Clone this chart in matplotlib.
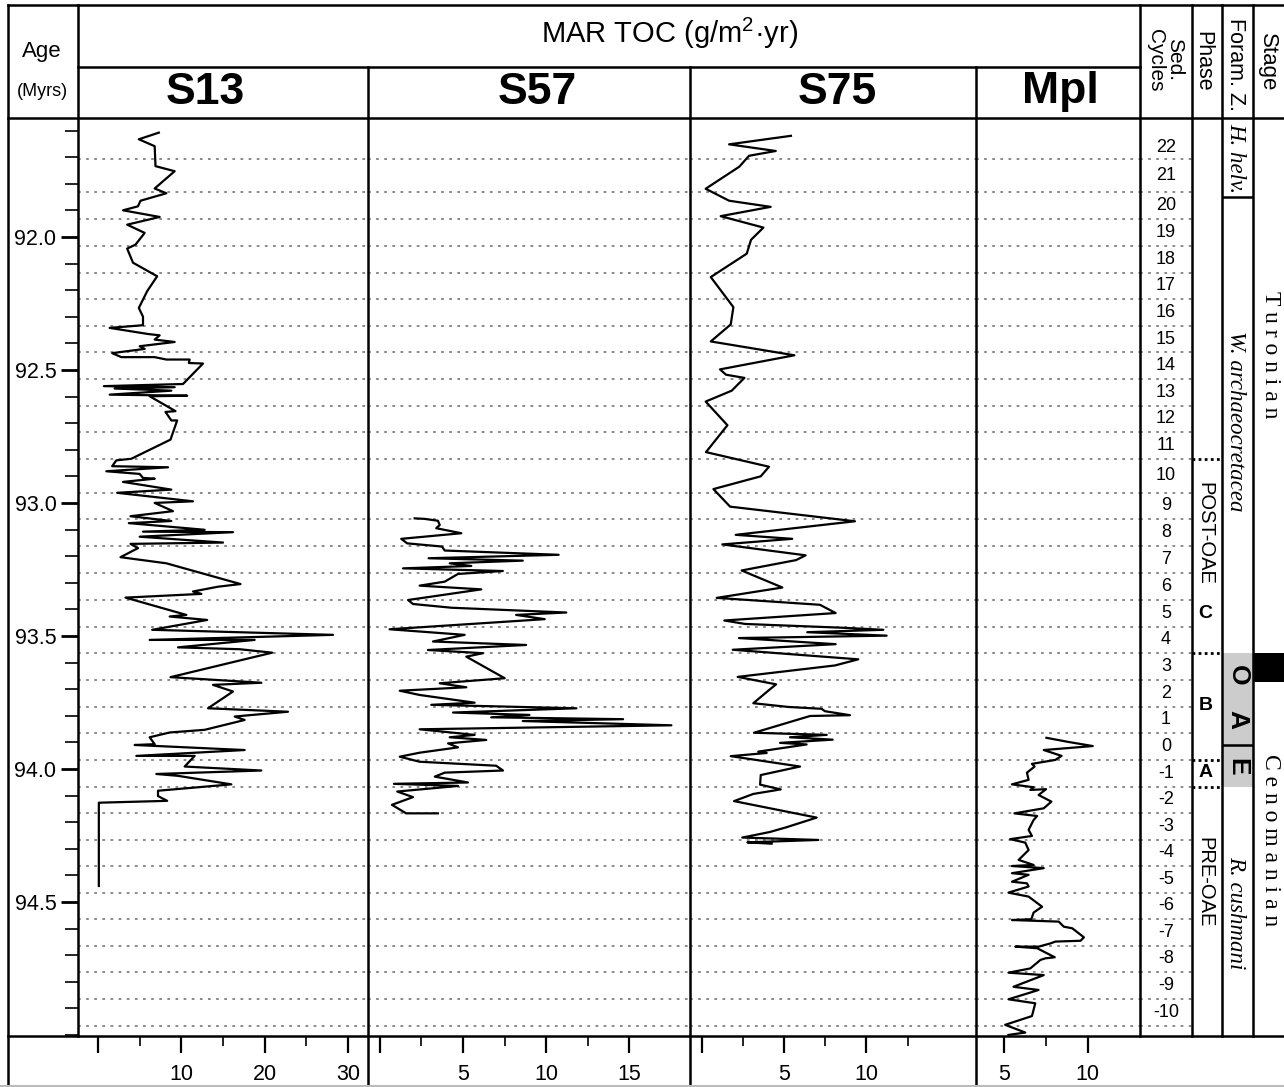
import matplotlib
matplotlib.use("Agg")
import matplotlib.pyplot as plt
from matplotlib.ticker import MultipleLocator

W, H = 1284, 1087
SANS = "Liberation Sans"
SERIF = "Liberation Serif"
plt.rcParams["mathtext.fontset"] = "custom"
plt.rcParams["mathtext.rm"] = SANS

# ---- data: age (Myr) and MAR TOC (g/m2/yr) ----
s13_age = [91.608, 91.633, 91.659, 91.734, 91.753, 91.818, 91.836, 91.864, 91.885, 91.900,
           91.925, 91.954, 91.985, 92.029, 92.044, 92.097, 92.148, 92.204, 92.267, 92.300,
           92.332, 92.342, 92.365, 92.370, 92.386, 92.395, 92.411, 92.421, 92.437, 92.452,
           92.452, 92.461, 92.461, 92.474, 92.476, 92.553, 92.561, 92.565, 92.570, 92.578,
           92.593, 92.597, 92.599, 92.655, 92.658, 92.690, 92.690, 92.762, 92.834, 92.840,
           92.862, 92.866, 92.881, 92.891, 92.906, 92.909, 92.921, 92.950, 92.962, 92.994,
           93.000, 93.031, 93.050, 93.068, 93.076, 93.101, 93.108, 93.110, 93.127, 93.139,
           93.149, 93.154, 93.170, 93.204, 93.227, 93.305, 93.315, 93.333, 93.342, 93.356,
           93.421, 93.427, 93.440, 93.477, 93.496, 93.515, 93.515, 93.543, 93.550, 93.563,
           93.655, 93.676, 93.684, 93.709, 93.772, 93.785, 93.803, 93.816, 93.853, 93.863,
           93.881, 93.907, 93.910, 93.929, 93.951, 93.951, 93.991, 94.006, 94.019, 94.026,
           94.058, 94.082, 94.102, 94.120, 94.127, 94.440]
s13_mar = [7.3, 4.9, 6.8, 6.9, 9.2, 6.8, 8.2, 5.1, 4.8, 3.0,
           7.4, 3.5, 5.6, 4.5, 3.5, 4.2, 7.1, 5.9, 4.9, 5.4,
           5.4, 1.4, 6.0, 7.4, 6.8, 9.2, 5.0, 5.6, 1.7, 2.8,
           6.8, 8.2, 11.0, 10.9, 12.6, 10.2, 0.7, 9.2, 2.0, 8.8,
           1.4, 10.7, 6.2, 9.3, 8.1, 8.8, 9.5, 8.7, 4.0, 2.2,
           1.7, 8.4, 1.0, 5.0, 5.4, 6.8, 3.0, 8.8, 2.3, 11.4,
           6.8, 9.0, 3.9, 8.8, 3.7, 12.8, 5.4, 16.2, 5.0, 10.4,
           15.0, 3.9, 4.8, 2.7, 8.2, 17.1, 14.4, 11.4, 12.4, 3.3,
           10.6, 8.6, 13.1, 6.5, 28.2, 6.2, 18.8, 9.6, 17.0, 20.9,
           8.7, 19.6, 13.8, 16.2, 13.2, 22.8, 16.4, 17.6, 12.8, 8.6,
           6.2, 6.8, 4.4, 17.6, 4.6, 11.6, 10.4, 19.6, 7.0, 9.6,
           16.0, 7.2, 7.2, 8.3, 0.1, 0.1]

s57_age = [93.058, 93.060, 93.067, 93.083, 93.095, 93.114, 93.135, 93.152, 93.164, 93.179,
           93.195, 93.208, 93.217, 93.227, 93.237, 93.246, 93.256, 93.267, 93.296, 93.311,
           93.325, 93.365, 93.380, 93.394, 93.412, 93.421, 93.437, 93.475, 93.496, 93.521,
           93.534, 93.553, 93.565, 93.578, 93.659, 93.678, 93.693, 93.706, 93.722, 93.751,
           93.759, 93.772, 93.788, 93.797, 93.806, 93.813, 93.820, 93.836, 93.851, 93.872,
           93.881, 93.891, 93.904, 93.919, 93.939, 93.954, 93.973, 93.988, 94.006, 94.014,
           94.029, 94.051, 94.056, 94.064, 94.085, 94.106, 94.135, 94.167, 94.167]
s57_mar = [2.09, 2.69, 3.49, 3.6, 3.39, 4.9, 1.28, 1.64, 3.73, 3.9,
           10.76, 2.93, 8.6, 4.2, 5.5, 1.39, 7.4, 4.7, 3.9, 2.39,
           6.1, 1.69, 1.99, 4.3, 11.22, 8.2, 9.92, 0.58, 5.1, 3.19,
           8.8, 2.89, 6.2, 5.2, 7.51, 3.6, 5.2, 1.19, 2.39, 5.7,
           3.09, 11.83, 4.4, 9.0, 6.7, 14.64, 8.6, 17.55, 2.39, 5.7,
           4.2, 6.4, 4.1, 4.7, 2.39, 1.19, 2.39, 7.0, 7.41, 3.9,
           3.3, 5.3, 0.84, 4.7, 1.04, 1.99, 0.72, 1.58, 3.49]

s75_age = [91.620, 91.652, 91.677, 91.695, 91.736, 91.819, 91.864, 91.887, 91.922, 91.965,
           92.011, 92.063, 92.151, 92.264, 92.329, 92.393, 92.445, 92.498, 92.518, 92.530,
           92.578, 92.619, 92.708, 92.809, 92.864, 92.900, 92.948, 93.014, 93.069, 93.120,
           93.135, 93.156, 93.197, 93.215, 93.254, 93.318, 93.357, 93.383, 93.414, 93.442,
           93.455, 93.469, 93.477, 93.486, 93.499, 93.508, 93.531, 93.552, 93.588, 93.611,
           93.654, 93.682, 93.703, 93.753, 93.767, 93.774, 93.783, 93.798, 93.801, 93.864,
           93.872, 93.881, 93.890, 93.902, 93.908, 93.935, 93.940, 93.952, 93.991, 94.023,
           94.059, 94.077, 94.094, 94.121, 94.183, 94.219, 94.237, 94.258, 94.267, 94.276,
           94.281]
s75_mar = [5.42, 1.67, 4.50, 2.88, 2.29, 0.25, 1.67, 4.19, 1.16, 3.75,
           3.00, 2.74, 0.56, 1.93, 1.77, 0.56, 5.63, 1.12, 1.48, 2.60,
           1.83, 0.25, 1.57, 0.27, 4.09, 3.59, 0.72, 1.73, 9.3, 2.07,
           5.50, 1.26, 6.31, 5.73, 2.43, 4.90, 0.92, 7.18, 8.13, 1.38,
           2.64, 8.44, 11.02, 6.41, 11.22, 2.27, 8.13, 1.89, 9.50, 8.09,
           2.19, 4.52, 4.10, 3.14, 5.26, 7.28, 7.48, 9.00, 6.58, 3.18,
           7.59, 5.36, 7.95, 4.76, 6.37, 3.44, 3.95, 1.77, 5.97, 3.59,
           3.55, 4.80, 3.14, 1.97, 6.98, 5.16, 4.15, 2.47, 7.08, 2.78,
           4.25]

mpl_age = [93.883, 93.898, 93.914, 93.929, 93.951, 93.966, 93.981, 93.991, 94.014, 94.041,
           94.058, 94.069, 94.079, 94.076, 94.098, 94.123, 94.148, 94.167, 94.177, 94.192,
           94.229, 94.252, 94.264, 94.277, 94.305, 94.342, 94.361, 94.365, 94.373, 94.392,
           94.398, 94.424, 94.430, 94.442, 94.465, 94.480, 94.518, 94.540, 94.565, 94.568,
           94.574, 94.593, 94.599, 94.633, 94.646, 94.649, 94.656, 94.668, 94.668, 94.674,
           94.708, 94.712, 94.718, 94.750, 94.766, 94.775, 94.819, 94.831, 94.866, 94.881,
           94.929, 94.962, 94.991, 95.0]
mpl_mar = [7.52, 8.79, 10.30, 7.36, 8.43, 8.06, 6.65, 6.81, 6.35, 6.45,
           5.45, 6.75, 6.55, 7.5, 7.05, 7.82, 7.36, 5.6, 6.96, 6.75,
           6.45, 6.65, 5.34, 6.25, 6.45, 5.85, 6.75, 5.45, 7.36, 5.45,
           6.45, 5.45, 6.35, 6.45, 5.24, 6.45, 7.26, 6.75, 6.61, 5.45,
           8.26, 8.56, 9.07, 9.77, 9.57, 8.06, 7.76, 7.05, 5.65, 6.96,
           8.02, 7.46, 7.16, 6.55, 5.24, 7.36, 5.54, 7.05, 5.24, 6.85,
           6.65, 5.04, 6.25, 5.24]

# sedimentary cycle boundaries (Myr) and labels
cycle_bounds = [91.707, 91.833, 91.933, 92.034, 92.134, 92.235, 92.335, 92.434, 92.534,
                92.634, 92.734, 92.835, 92.962, 93.061, 93.162, 93.263, 93.365, 93.465,
                93.564, 93.665, 93.766, 93.865, 93.966, 94.067, 94.165, 94.267, 94.365,
                94.465, 94.564, 94.665, 94.763, 94.865, 94.966]
cycle_labels = [str(n) for n in range(22, -11, -1)]
cycle_top = 91.62

phase_bounds = [92.835, 93.564, 93.966, 94.067]
phase_texts = ["POST-OAE", "C", "B", "A", "PRE-OAE"]
phase_pos = [93.113, 93.417, 93.763, 94.015, 94.425]

oae_span = (93.564, 94.067)
oae_letters = ["O", "A", "E"]
oae_pos = [93.647, 93.816, 93.992]
foram_bounds = [91.85, 93.91]
foram_names = ["H. helv.", "W. archaeocretacea", "R. cushmani"]
foram_pos = [91.703, 92.692, 94.54]
stage_names = ["Turonian", "Cenomanian"]
stage_pos = [92.444, 94.267]
stage_box = (93.564, 93.673)

panels = [
    # name, x px range, xlim, major ticks, labels, minor ticks, x of title
    ("S13", (78, 368), (-2.4, 32.4), [0, 10, 20, 30], ["", "10", "20", "30"], [5, 15, 25], 205, s13_mar, s13_age),
    ("S57", (368, 690), (-0.72, 18.67), [0, 5, 10, 15], ["", "5", "10", "15"], [2.5, 7.5, 12.5], 537, s57_mar, s57_age),
    ("S75", (690, 976), (-0.70, 16.64), [0, 5, 10], ["", "5", "10"], [2.5, 7.5, 12.5], 837, s75_mar, s75_age),
    ("Mpl", (976, 1140), (3.29, 13.14), [5, 10], ["5", "10"], [7.5], 1060, mpl_mar, mpl_age),
]

YLIM = (95.004, 91.553)
PLOT_TOP, PLOT_BOT = 118, 1036

fig = plt.figure(figsize=(W / 100, H / 100), dpi=100)


def px_axes(x0, x1, y0=PLOT_TOP, y1=PLOT_BOT):
    ax = fig.add_axes([x0 / W, 1 - y1 / H, (x1 - x0) / W, (y1 - y0) / H])
    ax.set_ylim(*YLIM)
    ax.patch.set_alpha(0)
    for s in ax.spines.values():
        s.set_visible(False)
    return ax


def dotted_grid(ax):
    for b in cycle_bounds:
        ax.axhline(b, color="#808080", ls=(0, (1.5, 3)), lw=1.3, zorder=0)


for i, (name, (x0, x1), xlim, maj, majlab, mnr, tx, xs, ys) in enumerate(panels):
    ax = px_axes(x0, x1)
    ax.set_xlim(*xlim)
    dotted_grid(ax)
    ax.plot(xs, ys, color="black", lw=1.6, zorder=3)
    ax.set_xticks(maj)
    ax.set_xticklabels(majlab, fontfamily=SANS)
    ax.set_xticks(mnr, minor=True)
    ax.tick_params(axis="x", which="major", direction="out", length=12, width=1.6,
                   labelsize=15.5, pad=8)
    ax.tick_params(axis="x", which="minor", direction="out", length=7, width=1.2)
    if i == 0:
        ax.set_yticks([92.0, 92.5, 93.0, 93.5, 94.0, 94.5])
        ax.set_yticklabels(["92.0", "92.5", "93.0", "93.5", "94.0", "94.5"], fontfamily=SANS)
        ax.yaxis.set_minor_locator(MultipleLocator(0.1))
        ax.tick_params(axis="y", which="major", direction="out", length=12.5, width=2,
                       labelsize=15.5, pad=3)
        ax.tick_params(axis="y", which="minor", direction="out", length=9.5, width=1.2)
    else:
        ax.set_yticks([])
    fig.text(tx / W, 1 - 92 / H, name, ha="center", va="center", fontsize=32,
             fontweight="bold", fontfamily=SANS)

# sedimentary cycles column
ax_sed = px_axes(1140, 1192)
ax_sed.set_xlim(0, 1)
ax_sed.set_xticks([])
ax_sed.set_yticks([])
dotted_grid(ax_sed)
edges = [cycle_top] + cycle_bounds
for lab, a, b in zip(cycle_labels, edges[:-1], edges[1:]):
    ax_sed.text(0.5, (a + b) / 2, lab, ha="center", va="center", fontsize=13, fontfamily=SANS)

# phase column
ax_ph = px_axes(1192, 1222)
ax_ph.set_xlim(0, 1)
ax_ph.set_xticks([])
ax_ph.set_yticks([])
for b in phase_bounds:
    ax_ph.axhline(b, color="black", ls=(0, (1, 1.2)), lw=2)
for t, a in zip(phase_texts, phase_pos):
    if len(t) > 1:
        ax_ph.text(0.43, a, t, ha="center", va="center", rotation=-90, fontsize=14.5,
                   fontfamily=SANS)
    else:
        ax_ph.text(0.45, a, t, ha="center", va="center", fontsize=14, fontweight="bold",
                   fontfamily=SANS)

# foraminifera zones
ax_fo = px_axes(1222, 1253)
ax_fo.set_xlim(0, 1)
ax_fo.set_xticks([])
ax_fo.set_yticks([])
ax_fo.axhspan(*oae_span, color="#cccccc", lw=0, zorder=0)
for b in foram_bounds:
    ax_fo.axhline(b, color="black", lw=1.8)
for t, a in zip(foram_names, foram_pos):
    ax_fo.text(0.45, a, t, ha="center", va="center", rotation=-90, fontsize=16.5,
               fontstyle="italic", fontfamily=SERIF)
for t, a in zip(oae_letters, oae_pos):
    ax_fo.text(0.5, a, t, ha="center", va="center", rotation=-90, fontsize=19,
               fontweight="heavy", fontfamily=SANS)

# stage column
ax_st = px_axes(1253, 1284)
ax_st.set_xlim(0, 1)
ax_st.set_xticks([])
ax_st.set_yticks([])
ax_st.axhspan(*stage_box, color="black", lw=0)
for t, a in zip(stage_names, stage_pos):
    ax_st.text(0.55, a, " ".join(t), ha="center", va="center", rotation=-90, fontsize=17,
               fontfamily=SERIF)

# frame and header (pixel coordinates)
ov = fig.add_axes([0, 0, 1, 1], zorder=10)
ov.set_xlim(0, W)
ov.set_ylim(H, 0)
ov.axis("off")
ov.patch.set_alpha(0)
lk = dict(color="black", lw=1.8, solid_capstyle="projecting")
ov.plot([8, W], [5, 5], **lk)
ov.plot([8, W], [118, 118], **lk)
ov.plot([8, W], [1036, 1036], **lk)
ov.plot([78, 1140], [67, 67], **lk)
ov.plot([8, 8], [5, 1086], **lk)
for x in (78, 1140, 1192, 1222, 1253):
    ov.plot([x, x], [5, 1036], **lk)
for x in (368, 690, 976):
    ov.plot([x, x], [67, 1086], **lk)
ov.plot([0, W], [1086, 1086], color="#bbbbbb", lw=1.5)

ov.text(670, 33, "MAR TOC (g/m$^2$·yr)", ha="center", va="center", fontsize=21, fontfamily=SANS)
ov.text(42, 52, "Age", ha="center", va="center", fontsize=16, fontfamily=SANS)
ov.text(42, 92, "(Myrs)", ha="center", va="center", fontsize=13, fontfamily=SANS)
ov.text(1165, 60, "Sed.\nCycles", ha="center", va="center", rotation=-90, fontsize=15,
        fontfamily=SANS, linespacing=0.95)
ov.text(1203, 61, "Phase", ha="center", va="center", rotation=-90, fontsize=15.5, fontfamily=SANS)
ov.text(1236, 65, "Foram. Z.", ha="center", va="center", rotation=-90, fontsize=15.5,
        fontfamily=SANS)
ov.text(1267, 62, "Stage", ha="center", va="center", rotation=-90, fontsize=16, fontfamily=SANS)

fig.savefig("out.png", dpi=100)
